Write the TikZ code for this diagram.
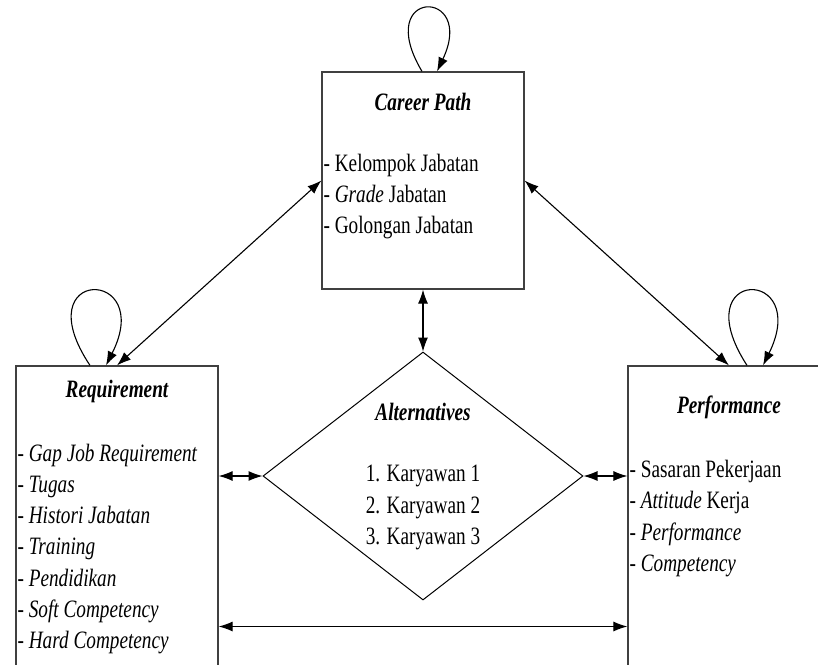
\documentclass[tikz,border=0pt]{standalone}
\usepackage{fontspec}
\setmainfont{Liberation Serif}[FakeStretch=0.77]
\usetikzlibrary{shapes.geometric, arrows.meta, positioning, calc}

\begin{document}
\begin{tikzpicture}[
        x=1pt, y=-1pt,
        font=\fontsize{25pt}{31.3pt}\selectfont,
        box/.style={rectangle, draw=black!75, line width=1.2pt, minimum width=202pt, inner sep=0pt},
        choice/.style={diamond, draw, line width=1pt, minimum width=320pt, minimum height=248pt, inner sep=0pt},
        title/.style={font=\fontsize{25pt}{31.3pt}\selectfont\bfseries\itshape, inner sep=0pt},
        items/.style={align=left, inner sep=2pt, anchor=west},
        dbl/.style={{Latex[length=14pt,width=10pt]}-{Latex[length=14pt,width=10pt]}, line width=1.1pt},
        selfloop/.style={-{Latex[length=14pt,width=10pt]}, line width=1.1pt}
    ]
        \useasboundingbox (0,0) rectangle (818,664);
        \clip (0,0) rectangle (818,664);

        % Criteria
        \node[box, minimum height=217pt] (career) at (423,180.5) {};
        \node[box, minimum height=330pt] (req) at (117,531) {};
        \node[box, minimum height=330pt] (perf) at (729,531) {};

        % Alternatives
        \node[choice] (alt) at (423,476) {};

        % Texts for Career Path
        \node[title] (careerTitle) at ([yshift=-31pt]career.north) {Career Path};
        \node[items] (careerItems) at ([yshift=-16pt]career.west) {- Kelompok Jabatan\\- \textit{Grade} Jabatan\\- Golongan Jabatan};

        % Texts for Requirement
        \node[title] (reqTitle) at ([yshift=-26pt]req.north) {Requirement};
        \node[items] (reqItems) at ([yshift=-18pt]req.west) {\textit{- Gap Job Requirement}\\\textit{- Tugas}\\\textit{- Histori Jabatan}\\\textit{- Training}\\\textit{- Pendidikan}\\\textit{- Soft Competency}\\\textit{- Hard Competency}};

        % Texts for Performance
        \node[title] (perfTitle) at ([yshift=-42pt]perf.north) {Performance};
        \node[items] (perfItems) at ([yshift=12.5pt]perf.west) {- Sasaran Pekerjaan\\- \textit{Attitude} Kerja\\- \textit{Performance}\\- \textit{Competency}};

        % Texts for Alternatives
        \node[title] (altTitle) at ([yshift=-60pt]alt.north) {Alternatives};
        \node[align=left, inner sep=0pt] (altItems) at ([yshift=-31.5pt]alt.center) {1. Karyawan 1\\2. Karyawan 2\\3. Karyawan 3};

        % Connections
        \draw[dbl] (career.west) -- (req.north);
        \draw[dbl] (career.east) -- (perf.north);
        \draw[dbl] (career.south) -- (alt.north);
        \draw[dbl] (alt.west -| req.east) -- (alt.west);
        \draw[dbl] (alt.east) -- (alt.east -| perf.west);
        \coordinate (base) at ([yshift=-26pt]alt.south);
        \draw[dbl] (base -| req.east) -- (base -| perf.west);

        % Self loops
        \draw[selfloop] ([xshift=-1pt]career.north) .. controls +(-50,-84) and +(40,-84) .. ([xshift=14pt]career.north);
        \draw[selfloop] ([xshift=-27pt]req.north) .. controls +(-66,-99) and +(50,-99) .. ([xshift=-11pt]req.north);
        \draw[selfloop] ([xshift=18pt]perf.north) .. controls +(-64,-99) and +(49,-99) .. ([xshift=34pt]perf.north);
    \end{tikzpicture}
\end{document}
